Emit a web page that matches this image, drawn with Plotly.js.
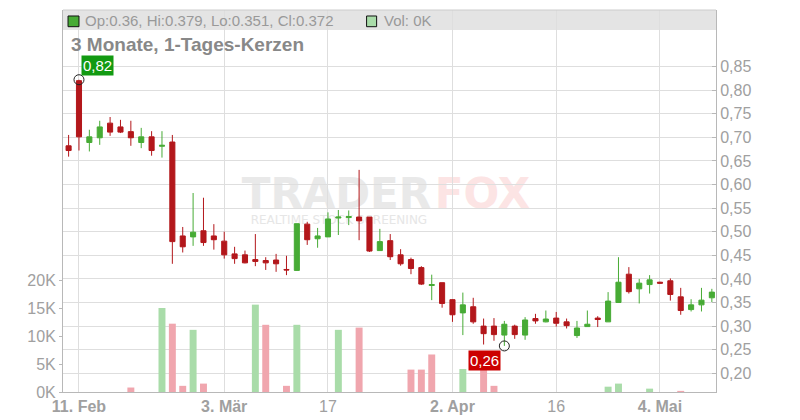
<!DOCTYPE html>
<html>
<head>
<meta charset="utf-8">
<script src="https://cdn.plot.ly/plotly-3.0.1.min.js"></script>
<style>html,body{margin:0;padding:0;background:#fff;}#chart{width:800px;height:420px;}</style>
</head>
<body>
<div id="chart"></div>
<script>
const dates = [
 '2025-02-10','2025-02-11','2025-02-12','2025-02-13','2025-02-14',
 '2025-02-17','2025-02-18','2025-02-19','2025-02-20','2025-02-21',
 '2025-02-24','2025-02-25','2025-02-26','2025-02-27','2025-02-28',
 '2025-03-03','2025-03-04','2025-03-05','2025-03-06','2025-03-07',
 '2025-03-10','2025-03-11','2025-03-12','2025-03-13','2025-03-14',
 '2025-03-17','2025-03-18','2025-03-19','2025-03-20','2025-03-21',
 '2025-03-24','2025-03-25','2025-03-26','2025-03-27','2025-03-28',
 '2025-03-31','2025-04-01','2025-04-02','2025-04-03','2025-04-04',
 '2025-04-07','2025-04-08','2025-04-09','2025-04-10','2025-04-11',
 '2025-04-14','2025-04-15','2025-04-16','2025-04-17','2025-04-22',
 '2025-04-23','2025-04-24','2025-04-25','2025-04-28','2025-04-29',
 '2025-04-30','2025-05-02','2025-05-05','2025-05-06','2025-05-07',
 '2025-05-08','2025-05-09','2025-05-12'
];
const openP = [
 0.682,0.820,0.689,0.699,0.730,0.722,0.712,0.689,0.701,0.681,
 0.690,0.491,0.489,0.502,0.491,0.480,0.453,0.451,0.441,0.439,
 0.440,0.420,0.418,0.516,0.485,0.489,0.529,0.530,0.531,0.531,
 0.460,0.481,0.451,0.441,0.424,0.386,0.392,0.356,0.328,0.341,
 0.300,0.300,0.281,0.300,0.281,0.316,0.309,0.317,0.309,0.280,
 0.299,0.317,0.309,0.350,0.410,0.379,0.388,0.393,0.396,0.362,
 0.335,0.345,0.360
];
const highP = [
 0.705,0.822,0.716,0.735,0.743,0.737,0.735,0.720,0.713,0.713,
 0.705,0.510,0.582,0.572,0.516,0.500,0.468,0.460,0.495,0.446,
 0.453,0.449,0.517,0.521,0.508,0.541,0.546,0.545,0.631,0.531,
 0.506,0.495,0.463,0.445,0.427,0.409,0.392,0.357,0.371,0.360,
 0.316,0.317,0.311,0.303,0.319,0.326,0.333,0.330,0.316,0.311,
 0.333,0.321,0.372,0.446,0.425,0.400,0.408,0.394,0.401,0.381,
 0.357,0.381,0.379
];
const lowP = [
 0.659,0.672,0.670,0.684,0.703,0.709,0.682,0.677,0.661,0.657,
 0.432,0.456,0.470,0.470,0.462,0.443,0.432,0.433,0.427,0.419,
 0.415,0.408,0.417,0.472,0.466,0.489,0.493,0.514,0.482,0.457,
 0.460,0.440,0.428,0.410,0.387,0.355,0.339,0.309,0.281,0.305,
 0.261,0.269,0.258,0.273,0.271,0.305,0.308,0.299,0.295,0.275,
 0.299,0.298,0.309,0.350,0.369,0.348,0.369,0.390,0.354,0.324,
 0.331,0.331,0.351
];
const closeP = [
 0.672,0.701,0.701,0.722,0.711,0.711,0.699,0.701,0.672,0.683,
 0.479,0.468,0.499,0.477,0.483,0.451,0.443,0.434,0.437,0.434,
 0.432,0.419,0.517,0.483,0.491,0.527,0.531,0.532,0.523,0.459,
 0.479,0.447,0.432,0.422,0.389,0.388,0.348,0.324,0.345,0.309,
 0.284,0.282,0.304,0.282,0.313,0.311,0.315,0.306,0.301,0.296,
 0.304,0.314,0.353,0.393,0.373,0.391,0.398,0.391,0.367,0.333,
 0.345,0.355,0.372
];
const volume = [
 0,0,0,0,0,0,800,0,0,15000,
 12200,1100,11100,1500,0,0,0,0,15600,12000,
 0,1100,12000,0,0,0,11100,0,11500,0,
 0,0,0,4000,4000,6700,0,0,4100,0,
 6000,1100,0,0,0,0,0,0,0,0,
 0,0,950,1500,0,0,600,0,0,200,
 0,0,0
];
const tickDates = ['2025-02-11','2025-03-03','2025-03-17','2025-04-02','2025-04-16','2025-05-05'];
const tickLabels = ['<b>11. Feb</b>','<b>3. Mär</b>','17','<b>2. Apr</b>','16','<b>4. Mai</b>'];
const priceTicks = [0.20,0.25,0.30,0.35,0.40,0.45,0.50,0.55,0.60,0.65,0.70,0.75,0.80,0.85];
const volTicks = [0,5000,10000,15000,20000];
const volTickLabels = ['0K','5K','10K','15K','20K'];
const chartTitle = '3 Monate, 1-Tages-Kerzen';

const GREEN = '#47ab35', RED = '#b3171b';
const VGREEN = '#a9dca9', VRED = '#f0a6ae';
const GRID = '#dedede', AXIS = '#b8b8b8', TXT = '#a0a0a0';

const volColors = volume.map((v, i) => {
  const prev = i === 0 ? openP[0] : closeP[i - 1];
  return closeP[i] >= prev ? VGREEN : VRED;
});

let iMax = 0, iMin = 0;
highP.forEach((h, i) => { if (h > highP[iMax]) iMax = i; });
lowP.forEach((l, i) => { if (l < lowP[iMin]) iMin = i; });
const fmt2 = v => v.toFixed(2).replace('.', ',');
const last = dates.length - 1;

const traces = [
  {
    type: 'bar', x: dates, y: volume, yaxis: 'y', xaxis: 'x',
    marker: { color: volColors, line: { width: 0 } }, hoverinfo: 'skip'
  },
  {
    type: 'candlestick', x: dates, open: openP, high: highP, low: lowP, close: closeP,
    xaxis: 'x', yaxis: 'y2', whiskerwidth: 0,
    increasing: { line: { color: GREEN, width: 1 }, fillcolor: GREEN },
    decreasing: { line: { color: RED, width: 1 }, fillcolor: RED },
    hoverinfo: 'skip'
  },
  {
    type: 'scatter', mode: 'markers', xaxis: 'x', yaxis: 'y2',
    x: [dates[iMax], dates[iMin]], y: [highP[iMax], lowP[iMin]],
    marker: { symbol: 'circle-open', size: 10, color: '#222', line: { width: 1, color: '#222' } },
    hoverinfo: 'skip'
  }
];

const layout = {
  width: 800, height: 420,
  margin: { l: 63, r: 84, t: 10, b: 28, pad: 0 },
  paper_bgcolor: '#ffffff', plot_bgcolor: '#ffffff',
  showlegend: false, separators: ',.', bargap: 0.33,
  font: { family: 'Liberation Sans, Arial, sans-serif', size: 16, color: TXT },
  xaxis: {
    type: 'category', categoryorder: 'array', categoryarray: dates,
    range: [-0.54, 62.4], tickvals: tickDates, ticktext: tickLabels,
    showgrid: true, gridcolor: GRID, gridwidth: 1,
    showline: true, linecolor: AXIS, linewidth: 1, ticks: '',
    tickfont: { size: 16, color: TXT }, rangeslider: { visible: false }, fixedrange: true
  },
  yaxis: {
    range: [0, 68214], tickvals: volTicks, ticktext: volTickLabels,
    showgrid: false, zeroline: false, showline: true, linecolor: AXIS, linewidth: 1,
    ticks: 'outside', ticklen: 3, tickcolor: AXIS,
    tickfont: { size: 16, color: TXT }, fixedrange: true
  },
  yaxis2: {
    overlaying: 'y', side: 'right', anchor: 'x',
    range: [0.1604, 0.9697], tickvals: priceTicks, tickformat: '.2f',
    showgrid: true, gridcolor: GRID, gridwidth: 1, zeroline: false,
    showline: true, linecolor: AXIS, linewidth: 1,
    ticks: 'inside', ticklen: 4, tickcolor: AXIS,
    tickfont: { size: 16, color: TXT }, fixedrange: true
  },
  shapes: [
    { type: 'rect', xref: 'paper', yref: 'paper', x0: 0, x1: 1, y0: 0.9476, y1: 1,
      fillcolor: '#e4e4e4', line: { width: 0 }, layer: 'below' },
    { type: 'line', xref: 'paper', yref: 'paper', x0: 0, x1: 1, y0: 1, y1: 1,
      line: { color: '#cccccc', width: 1 }, layer: 'above' },
    { type: 'rect', xref: 'paper', yref: 'paper', x0: 0.0077, x1: 0.0245, y0: 0.9563, y1: 0.9843,
      fillcolor: GREEN, line: { color: '#111', width: 1 }, layer: 'above' },
    { type: 'rect', xref: 'paper', yref: 'paper', x0: 0.4649, x1: 0.4803, y0: 0.9563, y1: 0.9843,
      fillcolor: VGREEN, line: { color: '#111', width: 1 }, layer: 'above' },
    { type: 'rect', xref: 'paper', yref: 'paper', x0: 0.271, x1: 0.5666, y0: 0.4895, y1: 0.568,
      fillcolor: 'rgba(0,0,0,0)', line: { width: 0 }, layer: 'below',
      label: { text: 'TRADER', textposition: 'middle center',
        font: { family: 'DejaVu Sans', size: 42, color: '#e9e9e9', weight: 'bold' } } },
    { type: 'rect', xref: 'paper', yref: 'paper', x0: 0.5666, x1: 0.7182, y0: 0.4895, y1: 0.568,
      fillcolor: 'rgba(0,0,0,0)', line: { width: 0 }, layer: 'below',
      label: { text: 'FOX', textposition: 'middle center',
        font: { family: 'DejaVu Sans', size: 42, color: '#fce4e4', weight: 'bold' } } },
    { type: 'rect', xref: 'paper', yref: 'paper', x0: 0.288, x1: 0.557, y0: 0.4346, y1: 0.471,
      fillcolor: 'rgba(0,0,0,0)', line: { width: 0 }, layer: 'below',
      label: { text: 'REALTIME STOCK SCREENING', textposition: 'middle center',
        font: { family: 'DejaVu Sans', size: 12, color: '#e6e6e6' } } }
  ],
  annotations: [
    { xref: 'paper', yref: 'paper', x: 0.011, y: 0.9084, xanchor: 'left', yanchor: 'middle',
      text: '<b>' + chartTitle + '</b>', showarrow: false, borderpad: 0,
      font: { size: 19, color: '#888888' } },
    { xref: 'paper', yref: 'paper', x: 0.030, y: 0.9738, xanchor: 'left', yanchor: 'middle',
      text: `Op:${openP[last]}, Hi:${highP[last]}, Lo:${lowP[last]}, Cl:${closeP[last]}`,
      showarrow: false, font: { size: 15, color: '#999999' } },
    { xref: 'paper', yref: 'paper', x: 0.488, y: 0.9738, xanchor: 'left', yanchor: 'middle',
      text: `Vol: ${Math.round(volume[last] / 1000)}K`,
      showarrow: false, font: { size: 15, color: '#999999' } },
    { xref: 'x', yref: 'y2', x: dates[iMax], y: highP[iMax], xanchor: 'left', yanchor: 'bottom',
      xshift: 2, yshift: 4, text: fmt2(highP[iMax]), showarrow: false,
      bgcolor: '#129a12', borderpad: 1, font: { size: 15, color: '#ffffff' } },
    { xref: 'x', yref: 'y2', x: dates[iMin], y: lowP[iMin], xanchor: 'right', yanchor: 'top',
      xshift: -3, yshift: -4, text: fmt2(lowP[iMin]), showarrow: false,
      bgcolor: '#cc0000', borderpad: 1, font: { size: 15, color: '#ffffff' } }
  ]
};

Plotly.newPlot('chart', traces, layout, { staticPlot: true, displayModeBar: false });
</script>
</body>
</html>
